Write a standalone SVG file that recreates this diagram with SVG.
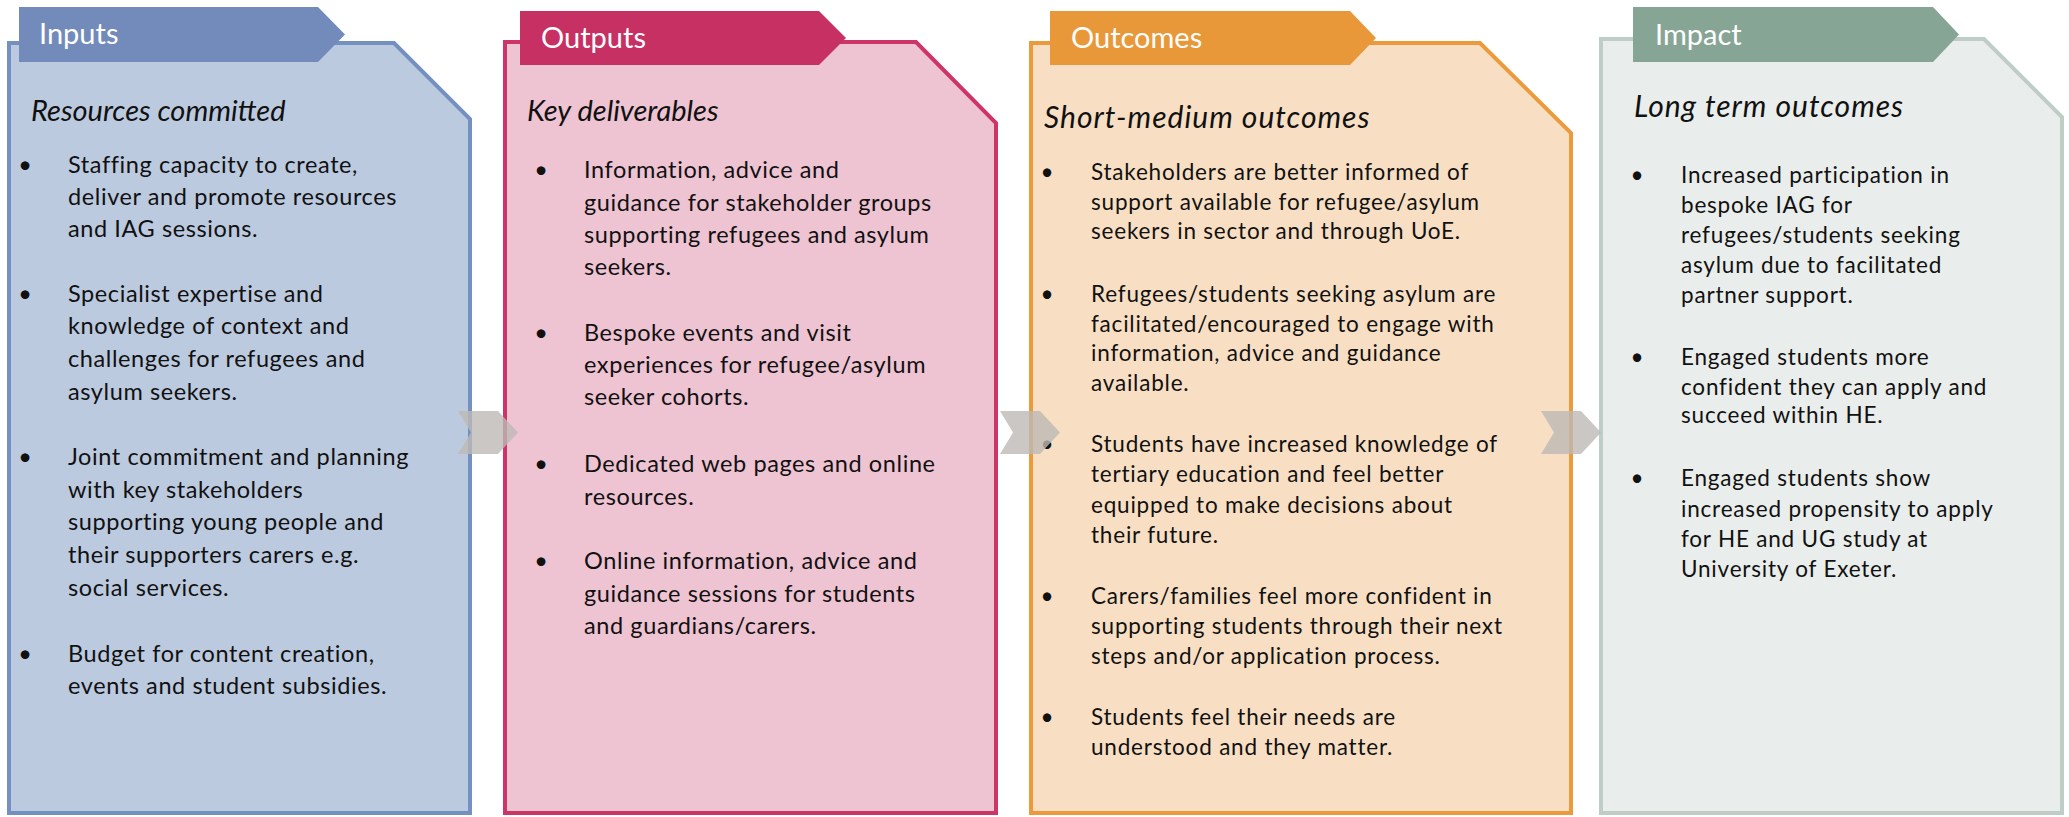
<svg xmlns="http://www.w3.org/2000/svg" width="2069" height="817" viewBox="0 0 2069 817">
<style>
  .title { font-family: Lato, "Liberation Sans", sans-serif; font-size: 29px; fill: #ffffff; }
  .sub { font-family: Lato, "Liberation Sans", sans-serif; font-style: italic; fill: #111111; }
  .body { font-family: Lato, "Liberation Sans", sans-serif; fill: #111111; }
  .b1 { font-size: 23.5px; letter-spacing: 0.6px; }
  .b2 { font-size: 23.5px; letter-spacing: 0.6px; }
  .b3 { font-size: 22.5px; letter-spacing: 0.8px; }
  .b4 { font-size: 22.5px; letter-spacing: 0.8px; }
  .bul { text-anchor: middle; letter-spacing: 0; }
  .chev { fill: #bdb9b5; fill-opacity: 0.8; }
</style>

<g id="inputs">
  <path d="M9 43 L394 43 L470 119 L470 813 L9 813 Z" fill="#bccadf" stroke="#7390c0" stroke-width="4"/>
  <path d="M19 7 L318 7 L345 34.5 L318 62 L19 62 Z" fill="#728bbb"/>
  <text class="title" x="39" y="44">Inputs</text>
  <text class="sub" x="31" y="121" font-size="29">Resources committed</text>
  <g class="body b1">
    <text class="bul" x="25" y="173">•</text>
    <text x="68" y="173">Staffing capacity to create,</text>
    <text x="68" y="205">deliver and promote resources</text>
    <text x="68" y="237">and IAG sessions.</text>
    <text class="bul" x="25" y="302">•</text>
    <text x="68" y="302">Specialist expertise and</text>
    <text x="68" y="334">knowledge of context and</text>
    <text x="68" y="367">challenges for refugees and</text>
    <text x="68" y="400">asylum seekers.</text>
    <text class="bul" x="25" y="465">•</text>
    <text x="68" y="465">Joint commitment and planning</text>
    <text x="68" y="498">with key stakeholders</text>
    <text x="68" y="530">supporting young people and</text>
    <text x="68" y="563">their supporters carers e.g.</text>
    <text x="68" y="596">social services.</text>
    <text class="bul" x="25" y="662">•</text>
    <text x="68" y="662">Budget for content creation,</text>
    <text x="68" y="694">events and student subsidies.</text>
  </g>
</g>

<g id="outputs">
  <path d="M505 42 L916 42 L996 123 L996 813 L505 813 Z" fill="#eec3d2" stroke="#cd3566" stroke-width="4"/>
  <path d="M520 11 L819 11 L846 38 L819 65 L520 65 Z" fill="#c73062"/>
  <text class="title" x="541" y="48">Outputs</text>
  <text class="sub" x="527" y="121" font-size="29">Key deliverables</text>
  <g class="body b2">
    <text class="bul" x="541" y="178">•</text>
    <text x="584" y="178">Information, advice and</text>
    <text x="584" y="211">guidance for stakeholder groups</text>
    <text x="584" y="243">supporting refugees and asylum</text>
    <text x="584" y="275">seekers.</text>
    <text class="bul" x="541" y="341">•</text>
    <text x="584" y="341">Bespoke events and visit</text>
    <text x="584" y="373">experiences for refugee/asylum</text>
    <text x="584" y="405">seeker cohorts.</text>
    <text class="bul" x="541" y="472">•</text>
    <text x="584" y="472">Dedicated web pages and online</text>
    <text x="584" y="505">resources.</text>
    <text class="bul" x="541" y="569">•</text>
    <text x="584" y="569">Online information, advice and</text>
    <text x="584" y="602">guidance sessions for students</text>
    <text x="584" y="634">and guardians/carers.</text>
  </g>
</g>

<g id="outcomes">
  <path d="M1031 43 L1480 43 L1571 133 L1571 813 L1031 813 Z" fill="#f8dfc4" stroke="#eb9a3c" stroke-width="4"/>
  <path d="M1050 11 L1350 11 L1376 38 L1350 65 L1050 65 Z" fill="#e99839"/>
  <text class="title" x="1071" y="48">Outcomes</text>
  <text class="sub" x="1044" y="128" font-size="30" letter-spacing="1">Short-medium outcomes</text>
  <g class="body b3">
    <text class="bul" x="1047" y="180">•</text>
    <text x="1091" y="180">Stakeholders are better informed of</text>
    <text x="1091" y="210">support available for refugee/asylum</text>
    <text x="1091" y="239">seekers in sector and through UoE.</text>
    <text class="bul" x="1047" y="302">•</text>
    <text x="1091" y="302">Refugees/students seeking asylum are</text>
    <text x="1091" y="332">facilitated/encouraged to engage with</text>
    <text x="1091" y="361">information, advice and guidance</text>
    <text x="1091" y="391">available.</text>
    <text class="bul" x="1047" y="452">•</text>
    <text x="1091" y="452">Students have increased knowledge of</text>
    <text x="1091" y="482">tertiary education and feel better</text>
    <text x="1091" y="513">equipped to make decisions about</text>
    <text x="1091" y="543">their future.</text>
    <text class="bul" x="1047" y="604">•</text>
    <text x="1091" y="604">Carers/families feel more confident in</text>
    <text x="1091" y="634">supporting students through their next</text>
    <text x="1091" y="664">steps and/or application process.</text>
    <text class="bul" x="1047" y="725">•</text>
    <text x="1091" y="725">Students feel their needs are</text>
    <text x="1091" y="755">understood and they matter.</text>
  </g>
</g>

<g id="impact">
  <path d="M1601 39 L1984 39 L2062 117 L2062 813 L1601 813 Z" fill="#e9edeb" stroke="#bfcdc7" stroke-width="4"/>
  <path d="M1633 7 L1933 7 L1959 34.5 L1933 62 L1633 62 Z" fill="#87a595"/>
  <text class="title" x="1655" y="45">Impact</text>
  <text class="sub" x="1634" y="117" font-size="30" letter-spacing="1">Long term outcomes</text>
  <g class="body b4">
    <text class="bul" x="1637" y="183">•</text>
    <text x="1681" y="183">Increased participation in</text>
    <text x="1681" y="213">bespoke IAG for</text>
    <text x="1681" y="243">refugees/students seeking</text>
    <text x="1681" y="273">asylum due to facilitated</text>
    <text x="1681" y="303">partner support.</text>
    <text class="bul" x="1637" y="365">•</text>
    <text x="1681" y="365">Engaged students more</text>
    <text x="1681" y="395">confident they can apply and</text>
    <text x="1681" y="423">succeed within HE.</text>
    <text class="bul" x="1637" y="486">•</text>
    <text x="1681" y="486">Engaged students show</text>
    <text x="1681" y="517">increased propensity to apply</text>
    <text x="1681" y="547">for HE and UG study at</text>
    <text x="1681" y="577">University of Exeter.</text>
  </g>
</g>

<g id="connectors">
  <path class="chev" d="M458 411 L498 411 L518 432.5 L498 454 L458 454 L471 432.5 Z"/>
  <path class="chev" d="M1000 411 L1040 411 L1060 432.5 L1040 454 L1000 454 L1013 432.5 Z"/>
  <path class="chev" d="M1541 411 L1581 411 L1601 432.5 L1581 454 L1541 454 L1554 432.5 Z"/>
</g>
</svg>
